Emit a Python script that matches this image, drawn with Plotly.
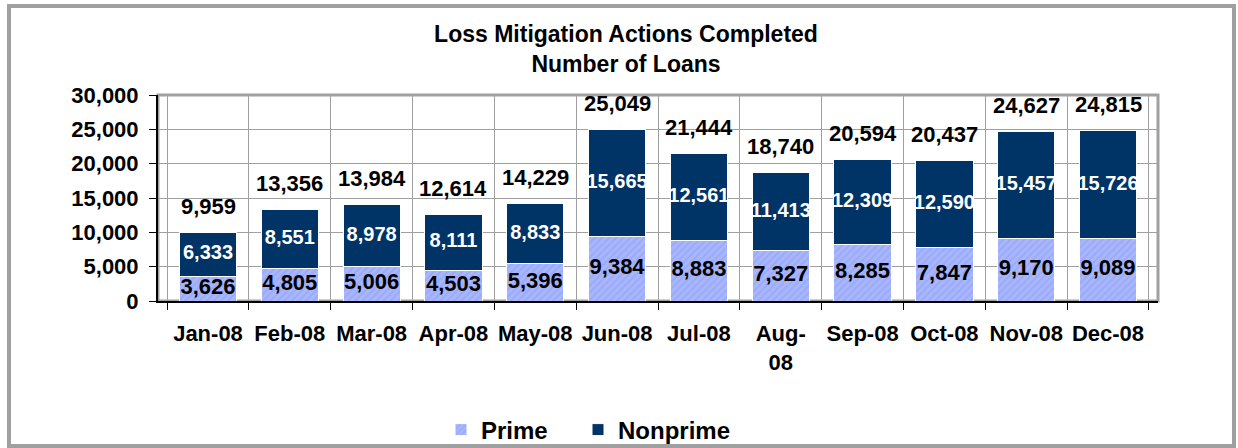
import plotly.graph_objects as go

months = ["Jan-08", "Feb-08", "Mar-08", "Apr-08", "May-08", "Jun-08",
          "Jul-08", "Aug-08", "Sep-08", "Oct-08", "Nov-08", "Dec-08"]
tick_labels = ["Jan-08", "Feb-08", "Mar-08", "Apr-08", "May-08", "Jun-08",
               "Jul-08", "Aug-<br>08", "Sep-08", "Oct-08", "Nov-08", "Dec-08"]
prime = [3626, 4805, 5006, 4503, 5396, 9384, 8883, 7327, 8285, 7847, 9170, 9089]
nonprime = [6333, 8551, 8978, 8111, 8833, 15665, 12561, 11413, 12309, 12590, 15457, 15726]
totals = [9959, 13356, 13984, 12614, 14229, 25049, 21444, 18740, 20594, 20437, 24627, 24815]

FONT = "Liberation Sans, Arial, sans-serif"
PRIME_C = "#A8B6FE"
NONPRIME_C = "#003366"

fig = go.Figure()
fig.add_trace(go.Bar(
    x=months, y=prime, name="Prime", legend="legend",
    marker=dict(color=PRIME_C, line=dict(color="white", width=1),
                pattern=dict(shape="/", fgcolor="#8E9EF0", size=5, solidity=0.4)),
    width=0.7, hoverinfo="skip"))
fig.add_trace(go.Bar(
    x=months, y=nonprime, name="Nonprime", legend="legend2",
    marker=dict(color=NONPRIME_C, line=dict(color="white", width=1)),
    width=0.7, hoverinfo="skip"))

# data labels
fig.add_trace(go.Scatter(
    x=months, y=[p / 2 for p in prime], mode="text",
    text=[f"{v:,}" for v in prime],
    textfont=dict(family=FONT, size=22, color="black", weight="bold"),
    showlegend=False, hoverinfo="skip", cliponaxis=False))
fig.add_trace(go.Scatter(
    x=months, y=[p + n / 2 for p, n in zip(prime, nonprime)], mode="text",
    text=[f"{v:,}" for v in nonprime],
    textfont=dict(family=FONT, size=20, color="white", weight="bold"),
    showlegend=False, hoverinfo="skip", cliponaxis=False))

for m, t in zip(months, totals):
    fig.add_annotation(x=m, y=t, text=f"{t:,}", showarrow=False,
                       yanchor="middle", yshift=26,
                       font=dict(family=FONT, size=22, color="black", weight="bold"))

# outer frame
fig.add_shape(type="rect", xref="paper", yref="paper",
              x0=(9 - 158) / 1000, x1=(1234 - 158) / 1000,
              y0=(301 - 446) / 206, y1=(301 - 6) / 206,
              line=dict(color="#A0A0A0", width=4), layer="below")
# plot area border
fig.add_shape(type="rect", xref="paper", yref="paper", x0=0, x1=1, y0=0, y1=1,
              line=dict(color="#A0A0A0", width=3), layer="below")

legend_common = dict(orientation="h", xref="paper", xanchor="left",
                     yref="container", y=1 - 430 / 448, yanchor="middle",
                     font=dict(family=FONT, size=24, color="black", weight="bold"),
                     itemwidth=30, bgcolor="rgba(0,0,0,0)")

fig.update_layout(
    width=1238, height=448,
    margin=dict(l=158, r=80, t=95, b=147),
    paper_bgcolor="white", plot_bgcolor="white",
    barmode="stack", bargap=0.3,
    font=dict(family=FONT, color="black"),
    title=dict(text="<b>Loss Mitigation Actions Completed<br>Number of Loans</b>",
               x=626 / 1238, xanchor="center", y=1 - 42 / 448, yanchor="middle",
               font=dict(family=FONT, size=23, color="black")),
    legend=dict(x=(441 - 158) / 1000, **legend_common),
    legend2=dict(x=(578 - 158) / 1000, **legend_common),
    showlegend=True,
)
fig.update_xaxes(
    tickvals=months, ticktext=tick_labels, tickson="boundaries",
    ticks="outside", ticklen=7, tickcolor="black",
    showgrid=True, gridcolor="#A0A0A0", gridwidth=1,
    showline=True, linecolor="black", linewidth=2,
    tickfont=dict(family=FONT, size=22, color="black", weight="bold"),
    ticklabelstandoff=12, tickangle=0, automargin=False)
fig.update_yaxes(
    range=[0, 30000], dtick=5000, tickformat=",d",
    ticks="outside", ticklen=7, tickcolor="black",
    showgrid=True, gridcolor="#A0A0A0", gridwidth=1,
    showline=True, linecolor="black", linewidth=2,
    tickfont=dict(family=FONT, size=22, color="black", weight="bold"),
    ticklabelstandoff=6, zeroline=False, automargin=False)

fig.write_html("out.html", config={"displayModeBar": False},
               post_script="document.body.style.margin='0';document.body.style.overflow='hidden';")
